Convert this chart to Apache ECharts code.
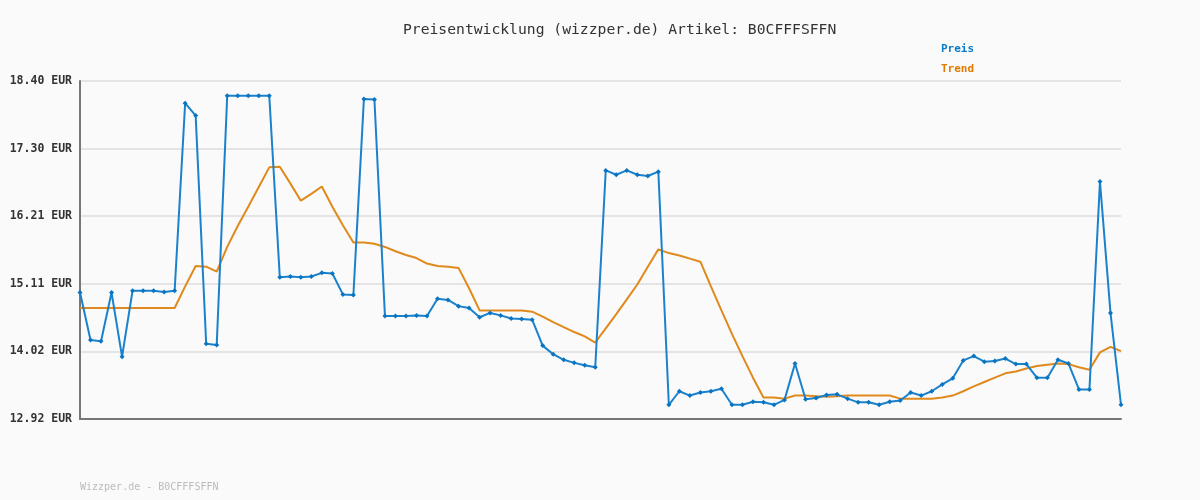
<!DOCTYPE html>
<html>
<head>
<meta charset="utf-8">
<script src="https://cdn.jsdelivr.net/npm/echarts@6/dist/echarts.min.js"></script>
<style>html,body{margin:0;padding:0;background:#fafafa;}#c{width:1200px;height:500px;}</style>
</head>
<body>
<div id="c"></div>
<script>
const titleText = 'Preisentwicklung (wizzper.de) Artikel: B0CFFFSFFN';
const footerText = 'Wizzper.de - B0CFFFSFFN';
const seriesNames = ['Preis', 'Trend'];
const yMin = 12.92, yMax = 18.40, yInterval = 1.096;

const preis = [
  14.97, 14.20, 14.18, 14.97, 13.93, 15.00, 15.00, 15.00, 14.98, 15.00,
  18.04, 17.84, 14.14, 14.12, 18.16, 18.16, 18.16, 18.16, 18.16, 15.22,
  15.23, 15.22, 15.23, 15.29, 15.28, 14.94, 14.93, 18.11, 18.10, 14.59,
  14.59, 14.59, 14.60, 14.59, 14.87, 14.85, 14.75, 14.72, 14.57, 14.64,
  14.60, 14.55, 14.54, 14.53, 14.11, 13.97, 13.88, 13.83, 13.79, 13.76,
  16.95, 16.88, 16.95, 16.88, 16.86, 16.93, 13.15, 13.37, 13.30, 13.35,
  13.37, 13.41, 13.15, 13.15, 13.20, 13.19, 13.15, 13.23, 13.82, 13.24,
  13.26, 13.31, 13.32, 13.25, 13.19, 13.19, 13.15, 13.20, 13.22, 13.35,
  13.30, 13.37, 13.48, 13.58, 13.87, 13.94, 13.85, 13.86, 13.90, 13.81,
  13.81, 13.59, 13.59, 13.88, 13.82, 13.40, 13.40, 16.77, 14.64, 13.15
];
const trend = [
  14.72, 14.72, 14.72, 14.72, 14.72, 14.72, 14.72, 14.72, 14.72, 14.72,
  15.07, 15.40, 15.39, 15.31, 15.71, 16.05, 16.36, 16.68, 17.00, 17.01,
  16.74, 16.46, 16.57, 16.69, 16.36, 16.06, 15.78, 15.78, 15.76, 15.71,
  15.64, 15.58, 15.53, 15.44, 15.40, 15.39, 15.37, 15.04, 14.68, 14.68,
  14.68, 14.68, 14.68, 14.66, 14.58, 14.49, 14.41, 14.33, 14.26, 14.16,
  14.39, 14.62, 14.86, 15.10, 15.39, 15.67, 15.61, 15.57, 15.52, 15.47,
  15.07, 14.68, 14.30, 13.94, 13.59, 13.27, 13.27, 13.25, 13.30, 13.30,
  13.29, 13.28, 13.29, 13.30, 13.30, 13.30, 13.30, 13.30, 13.25, 13.25,
  13.25, 13.25, 13.27, 13.30, 13.37, 13.45, 13.52, 13.59, 13.66, 13.69,
  13.74, 13.78, 13.80, 13.82, 13.81, 13.76, 13.72, 14.00, 14.09, 14.02
];
const categories = preis.map((_, i) => String(i + 1));

const mono = '"DejaVu Sans Mono", "Liberation Mono", monospace';
const chart = echarts.init(document.getElementById('c'), null, {renderer: 'canvas'});
chart.setOption({
  backgroundColor: '#fafafa',
  animation: false,
  title: {
    text: titleText,
    left: 398, top: 18,
    textStyle: {fontFamily: mono, fontSize: 14.7, fontWeight: 'normal', color: '#333'}
  },
  legend: {
    data: [
      {name: seriesNames[0], textStyle: {color: '#0a7bc8'}},
      {name: seriesNames[1], textStyle: {color: '#e07b00'}}
    ],
    orient: 'vertical',
    right: 216, top: 39,
    itemWidth: 0, itemHeight: 0, itemGap: 9,
    icon: 'none',
    align: 'right',
    textStyle: {fontFamily: mono, fontSize: 11, fontWeight: 'bold'}
  },
  graphic: [{
    type: 'text', left: 80, top: 482,
    style: {text: footerText, font: '10px ' + mono, fill: '#bbbbbb'}
  }],
  grid: {left: 80, right: 79, top: 81, bottom: 81, containLabel: false},
  xAxis: {
    type: 'category', data: categories, boundaryGap: false,
    axisLine: {show: true, lineStyle: {color: '#777', width: 2}},
    axisTick: {show: false}, axisLabel: {show: false}, splitLine: {show: false}
  },
  yAxis: {
    type: 'value', min: yMin, max: yMax, interval: yInterval,
    axisLine: {show: true, lineStyle: {color: '#777', width: 2}},
    axisTick: {show: false},
    axisLabel: {
      margin: 8, fontFamily: mono, fontSize: 11.5, fontWeight: 'bold', color: '#333',
      formatter: v => v.toFixed(2) + ' EUR'
    },
    splitLine: {show: true, lineStyle: {color: '#e4e4e4', width: 2}}
  },
  series: [
    {
      name: seriesNames[0], type: 'line', data: preis,
      symbol: 'diamond', symbolSize: 5, showAllSymbol: true,
      lineStyle: {color: '#1a82cc', width: 2},
      itemStyle: {color: '#0a74c0'}, z: 3
    },
    {
      name: seriesNames[1], type: 'line', data: trend,
      symbol: 'none',
      lineStyle: {color: '#e0891c', width: 2},
      itemStyle: {color: '#e07b00'}, z: 2
    }
  ]
});
</script>
</body>
</html>
